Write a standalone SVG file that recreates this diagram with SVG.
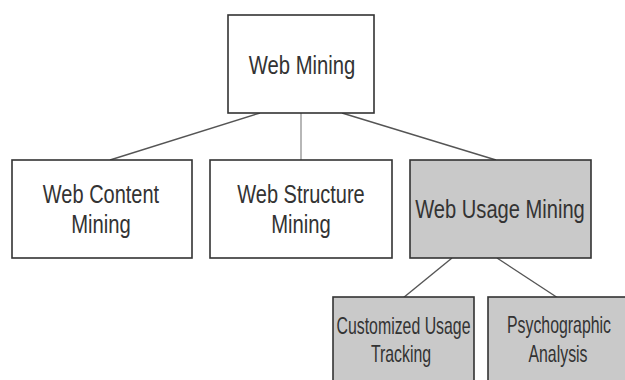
<svg xmlns="http://www.w3.org/2000/svg" width="625" height="380" viewBox="0 0 625 380">
  <style>
    .box { fill: #ffffff; stroke: #333333; stroke-width: 1.6; }
    .grey { fill: #c9c9c9; }
    .lbl { font-family: "Liberation Sans", Arial, sans-serif; fill: #333333; text-anchor: middle; }
    .big { font-size: 25px; }
    .small { font-size: 23px; }
    .conn { stroke: #555555; stroke-width: 1.4; fill: none; }
    .vert { stroke: #999999; stroke-width: 1.4; fill: none; }
  </style>
  <rect width="625" height="380" fill="#ffffff"/>
  <g id="connectors">
    <line class="conn" x1="260" y1="113" x2="110" y2="160"/>
    <line class="vert" x1="301" y1="113" x2="301" y2="160"/>
    <line class="conn" x1="342" y1="113" x2="496" y2="160"/>
    <line class="conn" x1="452" y1="258" x2="403" y2="298"/>
    <line class="conn" x1="497" y1="258" x2="558" y2="298"/>
  </g>
  <g id="web-mining">
    <rect class="box" x="228" y="15" width="146" height="98"/>
    <text class="lbl big" transform="translate(302,74) scale(0.81,1)">Web Mining</text>
  </g>
  <g id="web-content-mining">
    <rect class="box" x="12" y="160" width="180" height="98"/>
    <text class="lbl big" transform="translate(101,203) scale(0.8,1)">Web Content</text>
    <text class="lbl big" transform="translate(101,233) scale(0.81,1)">Mining</text>
  </g>
  <g id="web-structure-mining">
    <rect class="box" x="210" y="160" width="182" height="98"/>
    <text class="lbl big" transform="translate(301,203) scale(0.8,1)">Web Structure</text>
    <text class="lbl big" transform="translate(301,233) scale(0.81,1)">Mining</text>
  </g>
  <g id="web-usage-mining">
    <rect class="box grey" x="410" y="160" width="181" height="98"/>
    <text class="lbl big" transform="translate(500,218) scale(0.805,1)">Web Usage Mining</text>
  </g>
  <g id="customized-usage-tracking">
    <rect class="box grey" x="333" y="297" width="141" height="110"/>
    <text class="lbl small" transform="translate(403.5,334) scale(0.69,1)">Customized Usage</text>
    <text class="lbl small" transform="translate(401,362) scale(0.69,1)">Tracking</text>
  </g>
  <g id="psychographic-analysis">
    <rect class="box grey" x="488" y="297" width="141" height="110"/>
    <text class="lbl small" transform="translate(559,333) scale(0.69,1)">Psychographic</text>
    <text class="lbl small" transform="translate(558,362) scale(0.69,1)">Analysis</text>
  </g>
</svg>
